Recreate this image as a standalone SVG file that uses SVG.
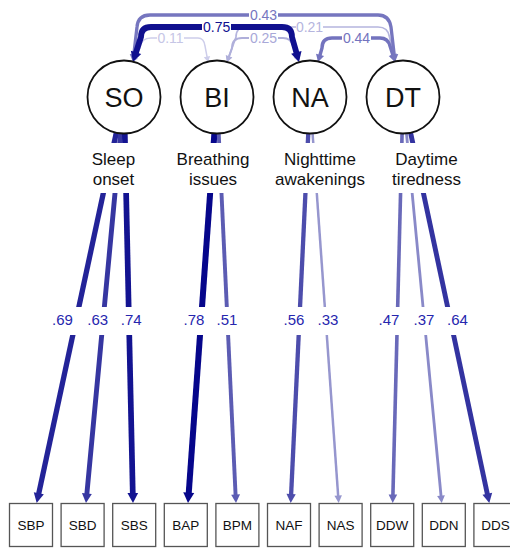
<svg xmlns="http://www.w3.org/2000/svg" xmlns:xlink="http://www.w3.org/1999/xlink" width="510" height="548" viewBox="0 0 510 548">
  <defs>
    <style>
      text { font-family: "Liberation Sans", Arial, sans-serif; }
      .node circle { fill: #fff; stroke: #111; stroke-width: 1.8; }
      .abbr { font-size: 27px; text-anchor: middle; fill: #111; }
      .name { font-size: 17px; text-anchor: middle; fill: #111; }
      .ind rect { fill: #fff; stroke: #555; stroke-width: 1.3; }
      .ind text { font-size: 13.5px; text-anchor: middle; fill: #111; }
      .edge { fill: none; stroke-linecap: butt; }
      .bg { fill: #fff; }
      .val { font-size: 15px; text-anchor: middle; fill: #2626ae; }
      .cv { font-size: 14px; text-anchor: middle; }
    </style>
    <!-- unit arrowhead, tip at origin pointing down; scaled per edge -->
    <path id="ah" d="M0,0 L-0.5,-1 L0.5,-1 Z"/>
  </defs>
  <rect width="510" height="548" fill="#fff"/>

  <g id="connectors">
    <!-- factor loadings -->
    <path class="edge" d="M124,97 L38.6,494.2" stroke="#232398" stroke-width="5.3"/>
    <use xlink:href="#ah" fill="#232398" transform="translate(36.7,503) rotate(12.14) scale(10.3,10)"/>
    <path class="edge" d="M124,97 L86.8,494.5" stroke="#3636a1" stroke-width="4.9"/>
    <use xlink:href="#ah" fill="#3636a1" transform="translate(86,503) rotate(5.35) scale(9.9,9.5)"/>
    <path class="edge" d="M124,97 L132.8,494" stroke="#131391" stroke-width="5.7"/>
    <use xlink:href="#ah" fill="#131391" transform="translate(133,503) rotate(-1.27) scale(10.7,10)"/>

    <path class="edge" d="M217,97 L188.7,493.5" stroke="#06068b" stroke-width="6"/>
    <use xlink:href="#ah" fill="#06068b" transform="translate(188,503) rotate(4.09) scale(11,10.5)"/>
    <path class="edge" d="M217,97 L235.6,495.5" stroke="#5c5cb3" stroke-width="3.9"/>
    <use xlink:href="#ah" fill="#5c5cb3" transform="translate(236,503) rotate(-2.68) scale(8.9,8.5)"/>

    <path class="edge" d="M310,97 L291.1,495" stroke="#4d4dac" stroke-width="4.3"/>
    <use xlink:href="#ah" fill="#4d4dac" transform="translate(290.7,503) rotate(2.72) scale(9.3,9)"/>
    <path class="edge" d="M310,97 L338.2,496.5" stroke="#9696ce" stroke-width="2.5"/>
    <use xlink:href="#ah" fill="#9696ce" transform="translate(338.7,503) rotate(-4.04) scale(7.5,7.5)"/>

    <path class="edge" d="M403,97 L392.9,495.5" stroke="#6969b9" stroke-width="3.6"/>
    <use xlink:href="#ah" fill="#6969b9" transform="translate(392.7,503) rotate(1.45) scale(8.6,8.5)"/>
    <path class="edge" d="M403,97 L441.1,496.5" stroke="#8989c8" stroke-width="2.8"/>
    <use xlink:href="#ah" fill="#8989c8" transform="translate(441.7,503) rotate(-5.44) scale(7.8,7.5)"/>
    <path class="edge" d="M403,97 L487.5,494.7" stroke="#3333a0" stroke-width="4.9"/>
    <use xlink:href="#ah" fill="#3333a0" transform="translate(489.3,503) rotate(-12) scale(9.9,9.5)"/>

    <!-- loading values -->
    <rect class="bg" x="46" y="307" width="102" height="28"/>
    <rect class="bg" x="180" y="307" width="64" height="28"/>
    <rect class="bg" x="278" y="307" width="66" height="28"/>
    <rect class="bg" x="372" y="307" width="102" height="28"/>
    <text class="val" x="62.5" y="325">.69</text>
    <text class="val" x="97.7" y="325">.63</text>
    <text class="val" x="131.2" y="325">.74</text>
    <text class="val" x="194" y="325">.78</text>
    <text class="val" x="227" y="325">.51</text>
    <text class="val" x="294" y="325">.56</text>
    <text class="val" x="328" y="325">.33</text>
    <text class="val" x="389" y="325">.47</text>
    <text class="val" x="424" y="325">.37</text>
    <text class="val" x="457.5" y="325">.64</text>

    <!-- factor covariances -->
    <path class="edge" d="M135,58 L140,48 Q141,38 151,38 H198 Q204,38 205,46 L207.2,57.6" stroke="#cdcdea" stroke-width="1.5"/>
    <use xlink:href="#ah" fill="#cdcdea" transform="translate(133,62) rotate(26.6) scale(6.5,5.5)"/>
    <use xlink:href="#ah" fill="#cdcdea" transform="translate(208,62) rotate(-10.6) scale(6.5,5.5)"/>

    <path class="edge" d="M228.7,57.3 L236,37 Q236,27 246,27 H378 Q388,27 389.5,37 L393.8,57.1" stroke="#b5b5de" stroke-width="1.7"/>
    <use xlink:href="#ah" fill="#b5b5de" transform="translate(227,62) rotate(19.8) scale(6.7,6)"/>
    <use xlink:href="#ah" fill="#b5b5de" transform="translate(395,62) rotate(-13.5) scale(6.7,6)"/>

    <path class="edge" d="M228.7,57.3 L232,48 Q232,38 242,38 H283 Q291,38 293,46 L297.2,57.3" stroke="#afafda" stroke-width="2"/>
    <use xlink:href="#ah" fill="#afafda" transform="translate(227,62) rotate(19.65) scale(7,6)"/>
    <use xlink:href="#ah" fill="#afafda" transform="translate(299,62) rotate(-20.6) scale(7,6)"/>

    <path class="edge" d="M319.8,55.75 L322,48 Q322,38 332,38 H380 Q388,38 390,46 L393.1,55.8" stroke="#7373be" stroke-width="3.4"/>
    <use xlink:href="#ah" fill="#7373be" transform="translate(318,62) rotate(15.9) scale(8.4,7.5)"/>
    <use xlink:href="#ah" fill="#7373be" transform="translate(395,62) rotate(-17.4) scale(8.4,7.5)"/>

    <path class="edge" d="M133.7,55.5 L137,27 Q138,15 150,15 H378 Q389,15 391,27 L394.3,55.5" stroke="#7676bf" stroke-width="3.3"/>
    <use xlink:href="#ah" fill="#7676bf" transform="translate(133,62) rotate(6.5) scale(8.3,7.5)"/>
    <use xlink:href="#ah" fill="#7676bf" transform="translate(395,62) rotate(-6.5) scale(8.3,7.5)"/>

    <path class="edge" d="M135.7,53.4 L141,37 Q141,27 151,27 H282 Q292,27 292,37 L296.6,53.3" stroke="#10108f" stroke-width="5.8"/>
    <use xlink:href="#ah" fill="#10108f" transform="translate(133,62) rotate(17.7) scale(10.8,10)"/>
    <use xlink:href="#ah" fill="#10108f" transform="translate(299,62) rotate(-15.6) scale(10.8,10)"/>

    <!-- covariance values -->
    <rect class="bg" x="249" y="10" width="29" height="10"/>
    <text class="cv" x="263.5" y="20" fill="#7676bf">0.43</text>
    <rect class="bg" x="202" y="21.5" width="29" height="11"/>
    <text class="cv" x="216.7" y="32" fill="#10108f">0.75</text>
    <rect class="bg" x="296" y="22" width="27" height="10"/>
    <text class="cv" x="309.5" y="32" fill="#b5b5de">0.21</text>
    <rect class="bg" x="157" y="33" width="27" height="10"/>
    <text class="cv" x="170.5" y="43" fill="#c6c6e6">0.11</text>
    <rect class="bg" x="249" y="33" width="29" height="10"/>
    <text class="cv" x="263.5" y="43" fill="#a8a8d8">0.25</text>
    <rect class="bg" x="342" y="33" width="29" height="10"/>
    <text class="cv" x="356.5" y="43" fill="#7373be">0.44</text>
  </g>

  <!-- latent factors -->
  <g id="SO" class="node">
    <circle cx="124" cy="97" r="36.5"/>
    <text class="abbr" x="124" y="107">SO</text>
    <rect class="bg" x="88" y="143" width="52" height="50"/>
    <text class="name" x="113.5" y="165">Sleep</text>
    <text class="name" x="113.5" y="185">onset</text>
  </g>
  <g id="BI" class="node">
    <circle cx="217" cy="97" r="36.5"/>
    <text class="abbr" x="217" y="107">BI</text>
    <rect class="bg" x="174" y="143" width="78" height="50"/>
    <text class="name" x="213" y="165">Breathing</text>
    <text class="name" x="213" y="185">issues</text>
  </g>
  <g id="NA" class="node">
    <circle cx="310" cy="97" r="36.5"/>
    <text class="abbr" x="310" y="107">NA</text>
    <rect class="bg" x="271" y="143" width="97" height="50"/>
    <text class="name" x="320" y="165">Nighttime</text>
    <text class="name" x="320" y="185">awakenings</text>
  </g>
  <g id="DT" class="node">
    <circle cx="403" cy="97" r="36.5"/>
    <text class="abbr" x="403" y="107">DT</text>
    <rect class="bg" x="389" y="143" width="76" height="50"/>
    <text class="name" x="426.5" y="165">Daytime</text>
    <text class="name" x="426.5" y="185">tiredness</text>
  </g>

  <!-- observed indicators -->
  <g id="SBP" class="ind"><rect x="9.5" y="503.5" width="43" height="43"/><text x="31" y="530">SBP</text></g>
  <g id="SBD" class="ind"><rect x="61.1" y="503.5" width="43" height="43"/><text x="82.6" y="530">SBD</text></g>
  <g id="SBS" class="ind"><rect x="112.7" y="503.5" width="43" height="43"/><text x="134.2" y="530">SBS</text></g>
  <g id="BAP" class="ind"><rect x="164.3" y="503.5" width="43" height="43"/><text x="185.8" y="530">BAP</text></g>
  <g id="BPM" class="ind"><rect x="215.9" y="503.5" width="43" height="43"/><text x="237.4" y="530">BPM</text></g>
  <g id="NAF" class="ind"><rect x="267.5" y="503.5" width="43" height="43"/><text x="289" y="530">NAF</text></g>
  <g id="NAS" class="ind"><rect x="319.1" y="503.5" width="43" height="43"/><text x="340.6" y="530">NAS</text></g>
  <g id="DDW" class="ind"><rect x="370.7" y="503.5" width="43" height="43"/><text x="392.2" y="530">DDW</text></g>
  <g id="DDN" class="ind"><rect x="422.3" y="503.5" width="43" height="43"/><text x="443.8" y="530">DDN</text></g>
  <g id="DDS" class="ind"><rect x="473.9" y="503.5" width="43" height="43"/><text x="495.4" y="530">DDS</text></g>
</svg>
